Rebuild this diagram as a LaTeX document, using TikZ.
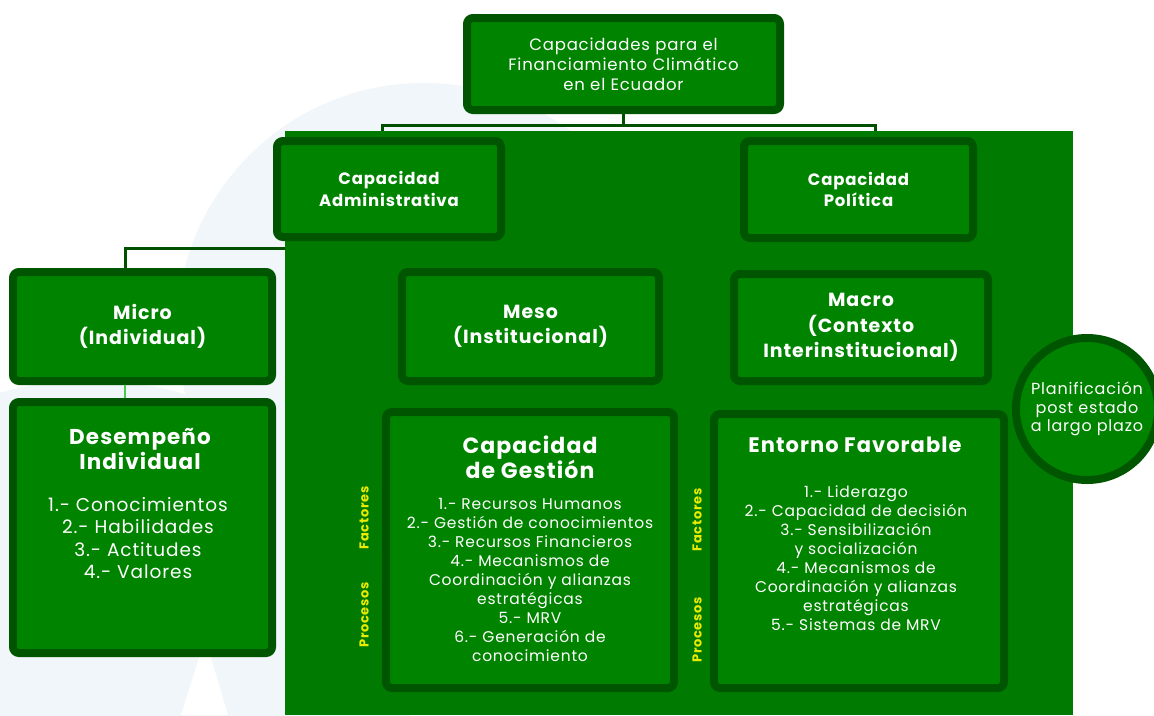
\documentclass[tikz,border=0pt]{standalone}
\usepackage{fontspec}
\setmainfont{Poppins}[LetterSpace=5]
\definecolor{boxfill}{RGB}{0,132,0}
\definecolor{boxline}{RGB}{0,86,0}
\definecolor{panelfill}{RGB}{0,122,0}
\definecolor{lightbg}{RGB}{240,246,250}
\definecolor{conline}{RGB}{0,80,0}
\definecolor{brightline}{RGB}{70,205,70}
\definecolor{labyellow}{RGB}{235,235,0}
\begin{document}
\begin{tikzpicture}[x=1pt,y=-1pt,
  gbox/.style={draw=boxline, fill=boxfill, line width=8pt, rounded corners=6pt,
    text=white, align=center, inner sep=0pt},
  panel/.style={fill=panelfill, inner sep=0pt, minimum width=788pt, minimum height=584pt},
  txt/.style={text=white, align=center, inner sep=0pt},
  vlab/.style={text=labyellow, inner sep=0pt, rotate=90, font=\bfseries\fontsize{13}{15}\selectfont},
  conn/.style={draw=conline, line width=3pt},
  bright/.style={draw=brightline, line width=2.5pt},
  topfont/.style={font=\fontsize{16.5}{20}\selectfont},
  capfont/.style={font=\bfseries\fontsize{16.5}{21.5}\selectfont},
  levfont/.style={font=\bfseries\fontsize{19}{25.5}\selectfont},
  itemfont/.style={font=\fontsize{15.5}{19}\selectfont}
]
\useasboundingbox (0,0) rectangle (1154,715);
\fill[white] (0,0) rectangle (1154,715);
\begin{scope}
  \clip (0,0) rectangle (1154,715);
  \fill[lightbg] (424,330) circle[radius=247];
  \fill[lightbg] (90,700) circle[radius=320];
  \fill[white] (181,715) -- (205,638) -- (228,715) -- cycle;
\end{scope}

% main panel
\node[panel] (panel) at (679,423) {};

% connector anchor points
\coordinate (hl) at (382,131);
\coordinate (hr) at (875,131);
\coordinate (mtop) at (125,248);

% boxes
\node[gbox, topfont, minimum width=313pt, minimum height=92pt] (top) at (623.5,64)
  {Capacidades para el\\Financiamiento Climático\\en el Ecuador};
\draw[conn] (top.south) -- ++(0,11);
\draw[conn] (hl) -- ++(0,-6) -| (hr);

\node[gbox, capfont, minimum width=224pt, minimum height=96pt] (admin) at (389,189)
  {Capacidad\\Administrativa};
\node[gbox, capfont, minimum width=229pt, minimum height=97pt] (pol) at (858.5,189.5)
  {Capacidad\\Política};

\draw[conn] (panel.west |- mtop) -- (mtop) -- ++(0,22);
\node[gbox, levfont, minimum width=259pt, minimum height=109pt] (micro) at (142.5,326.5)
  {Micro\\(Individual)};
\draw[bright] (micro.south -| mtop) -- ++(0,16);
\node[gbox, minimum width=259pt, minimum height=251pt] (desemp) at (142.5,527.5) {};

\node[gbox, levfont, minimum width=257pt, minimum height=109pt] (meso) at (530.5,326.5)
  {Meso\\(Institucional)};
\node[gbox, levfont, minimum width=254pt, minimum height=107pt] (macro) at (861,327.5)
  {Macro\\(Contexto\\Interinstitucional)};

\node[gbox, minimum width=288pt, minimum height=276pt] (gest) at (530,550) {};
\node[gbox, minimum width=290pt, minimum height=274pt] (ent) at (859,551) {};

\node[draw=boxline, fill=boxfill, line width=8pt, circle, minimum size=142pt, inner sep=0pt,
  text=white, align=center, font=\fontsize{16}{18.5}\selectfont] (plan) at (1087,409)
  {Planificación\\post estado\\a largo plazo};

% texts inside the large boxes
\node[txt, font=\bfseries\fontsize{21.5}{24.5}\selectfont] (desT) at (140,449) {Desempeño\\Individual};
\node[txt, font=\fontsize{18.5}{22.5}\selectfont] (desI) at (138,538)
  {1.- Conocimientos\\2.- Habilidades\\3.- Actitudes\\4.- Valores};

\node[txt, font=\bfseries\fontsize{22}{25}\selectfont] (gestT) at (530,457) {Capacidad\\de Gestión};
\node[txt, itemfont] (gestI) at (530,580)
  {1.- Recursos Humanos\\2.- Gestión de conocimientos\\3.- Recursos Financieros\\4.- Mecanismos de\\Coordinación y alianzas\\estratégicas\\5.- MRV\\6.- Generación de\\conocimiento};

\node[txt, font=\bfseries\fontsize{21}{24}\selectfont] (entT) at (855,445) {Entorno Favorable};
\node[txt, itemfont] (entI) at (856,558)
  {1.- Liderazgo\\2.- Capacidad de decisión\\3.- Sensibilización\\y socialización\\4.- Mecanismos de\\Coordinación y alianzas\\estratégicas\\5.- Sistemas de MRV};

% side labels
\node[vlab] (fac1) at (364,518) {Factores};
\node[vlab] (pro1) at (364,615) {Procesos};
\node[vlab] (fac2) at (697,520) {Factores};
\node[vlab] (pro2) at (697,630) {Procesos};
\end{tikzpicture}
\end{document}
